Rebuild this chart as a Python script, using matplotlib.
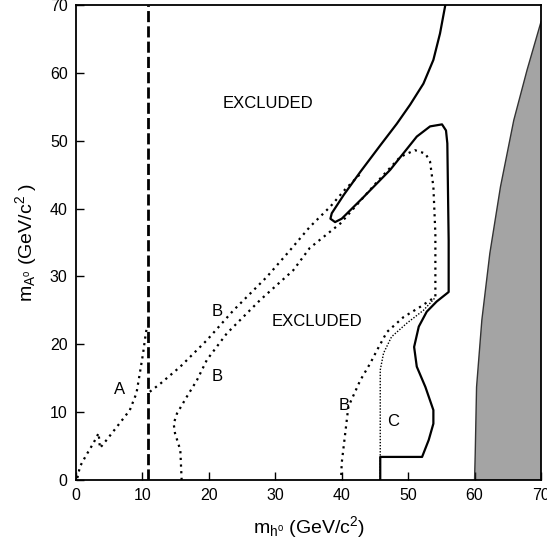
import numpy as np
import matplotlib
matplotlib.use('Agg')
import matplotlib.pyplot as plt

plt.rcParams['font.family'] = ['Liberation Sans', 'DejaVu Sans']
plt.rcParams['mathtext.fontset'] = 'custom'
plt.rcParams['mathtext.rm'] = 'Liberation Sans'
plt.rcParams['mathtext.it'] = 'Liberation Sans'

# curve A (dotted)
a_x = [0.2, 0.6, 1.5, 2.6, 3.4, 3.6, 4.6, 6.6, 8.1, 9.1, 9.6, 10.1, 10.5, 10.7]
a_y = [0.3, 2.0, 3.6, 5.4, 6.9, 4.7, 5.9, 8.4, 10.3, 12.8, 15.7, 18.7, 21.6, 22.6]

# upper B (dotted)
bu_x = [11.1, 12.7, 15.7, 19.7, 23.7, 28.7, 32.0, 35.2, 38.3, 40.5, 43.0]
bu_y = [13.0, 14.2, 16.7, 20.6, 25.0, 29.9, 33.6, 37.3, 40.3, 42.8, 45.3]

# lower B (dotted), up the left side, round the finger, down to x=40
bl_x = [15.9, 15.7, 14.9, 14.7, 15.2, 16.7, 18.2, 19.7, 22.7, 27.7, 32.7, 35.2,
        39.8, 45.3, 48.8, 51.0, 52.6, 53.3, 53.8, 54.1, 54.1, 54.1,
        51.8, 49.3, 46.8, 45.3, 44.3, 42.8, 41.0, 40.0, 39.9]
bl_y = [0.0, 4.4, 6.9, 8.3, 9.8, 12.3, 14.7, 17.7, 21.6, 26.5, 30.9, 34.2,
        37.8, 43.9, 47.6, 48.6, 48.1, 46.9, 43.2, 36.3, 30.9, 27.0,
        25.5, 24.0, 21.8, 19.1, 17.2, 14.7, 10.8, 2.5, 0.0]

# curve C (fine dotted)
c_x = [45.8, 45.8, 45.8, 46.3, 47.5, 49.8, 52.3, 54.1]
c_y = [0.0, 3.4, 16.2, 18.7, 21.1, 23.1, 25.0, 26.9]

# solid boundary
s_x = [55.6, 54.8, 53.8, 52.3, 50.3, 48.3, 45.8, 42.8, 40.3, 38.5, 38.3, 39.0,
       40.0, 43.3, 47.3, 51.3, 53.3, 55.1, 55.7, 55.9, 56.1, 56.1,
       54.3, 52.8, 51.6, 50.9, 51.3, 52.6, 53.8, 53.8, 53.1, 52.1, 45.8, 45.8]
s_y = [70.0, 65.8, 61.9, 58.4, 55.3, 52.5, 49.3, 45.4, 42.0, 39.3, 38.5, 38.0,
       38.5, 41.7, 45.7, 50.6, 52.1, 52.4, 51.5, 49.6, 35.3, 27.7,
       26.3, 24.8, 22.6, 19.6, 16.7, 13.7, 10.3, 8.3, 5.9, 3.4, 3.4, 0.0]

# shaded region left edge
sh_x = [60.0, 60.1, 60.3, 61.1, 62.3, 63.9, 65.9, 67.9, 70.0]
sh_y = [0.0, 3.9, 13.7, 23.6, 33.4, 43.2, 53.0, 60.4, 67.5]

dash_x = 10.8

fig = plt.figure(figsize=(5.47, 5.47), dpi=100)
ax = fig.add_axes([0.139, 0.1225, 0.85, 0.8685])

ax.fill_betweenx(sh_y, sh_x, 70, facecolor='#a4a4a4', edgecolor='none')
ax.plot(sh_x, sh_y, color='#333333', lw=1.0)

ax.plot([dash_x, dash_x], [0, 70], color='black', lw=2, dashes=(4, 1.5))
ax.plot(a_x, a_y, color='black', lw=1.6, ls=(0, (1, 2)))
ax.plot(bu_x, bu_y, color='black', lw=1.6, ls=(0, (1, 2)))
ax.plot(bl_x, bl_y, color='black', lw=1.6, ls=(0, (1, 2)))
ax.plot(c_x, c_y, color='black', lw=1.0, ls=(0, (1, 1.2)))
ax.plot(s_x, s_y, color='black', lw=1.6)

ax.text(28.9, 55.5, 'EXCLUDED', fontsize=12, ha='center', va='center')
ax.text(36.3, 23.3, 'EXCLUDED', fontsize=12, ha='center', va='center')
ax.text(6.6, 13.3, 'A', fontsize=12, ha='center', va='center')
ax.text(21.2, 24.8, 'B', fontsize=12, ha='center', va='center')
ax.text(21.2, 15.2, 'B', fontsize=12, ha='center', va='center')
ax.text(40.3, 11.0, 'B', fontsize=12, ha='center', va='center')
ax.text(47.7, 8.6, 'C', fontsize=12, ha='center', va='center')

ax.set_xlim(0, 70)
ax.set_ylim(0, 70)
ax.set_xticks(np.arange(0, 71, 10))
ax.set_yticks(np.arange(0, 71, 10))
ax.tick_params(direction='in', length=6, width=1, labelsize=11.5, pad=6)
for sp in ax.spines.values():
    sp.set_linewidth(1.3)

ax.set_xlabel(r'm$_{\mathrm{h^o}}$ (GeV/c$^2$)', fontsize=14, labelpad=8)
ax.set_ylabel(r'm$_{\mathrm{A^o}}$ (GeV/c$^2$ )', fontsize=14, labelpad=8)

fig.savefig('out.png', dpi=100)
